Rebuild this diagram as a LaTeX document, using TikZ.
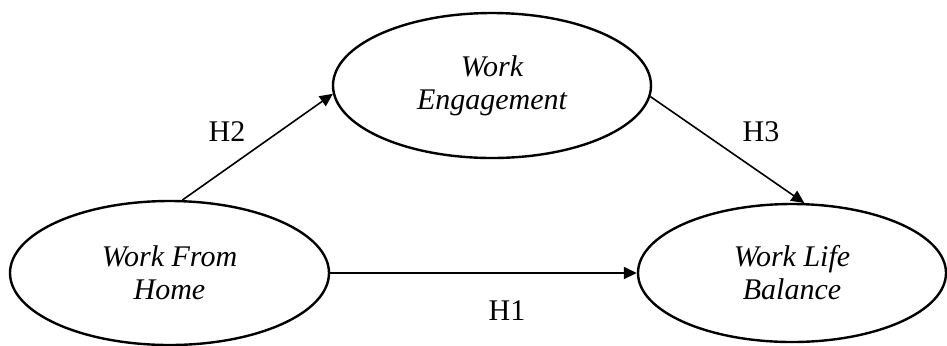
\documentclass[tikz,border=0pt]{standalone}
\usepackage{fontspec}
\setmainfont{Liberation Serif}
\usetikzlibrary{
  shapes,
  arrows.meta,
  positioning,
}
\tikzset{
  semithick,
  >={Triangle[length=6.5pt,width=6pt]},
  my construct/.style={
    draw,
    ellipse,
    line width=1.2pt,
    inner sep=0mm,
    align=center,
    font=\fontsize{15}{16.5}\selectfont\itshape
  },
  my hyp/.style={
    inner sep=0mm,
    font=\fontsize{15}{16.5}\selectfont
  },
  my path/.style={
    ->,
    line width=0.8pt
  }
}

\begin{document}
\begin{tikzpicture}[x=0.5pt,y=-0.5pt]
\useasboundingbox (0,0) rectangle (947,345);
\node[my construct,minimum width=159.5pt,minimum height=72pt] (wfh) at (169.5,273) {Work From\\Home};
\node[my construct,minimum width=159pt,minimum height=72.5pt] (we) at (492,85.5) {Work\\Engagement};
\node[my construct,minimum width=154pt,minimum height=69pt] (wlb) at (792,273) {Work Life\\Balance};
\draw[my path] (wfh.80) -- (we.183);
\draw[my path] (we.-4) -- (wlb.80);
\draw[my path] (wfh.east) -- (wlb.west);
\node[my hyp] (h2) at (227,132) {H2};
\node[my hyp] (h3) at (761,132) {H3};
\node[my hyp] (h1) at (507,311) {H1};
\end{tikzpicture}
\end{document}
